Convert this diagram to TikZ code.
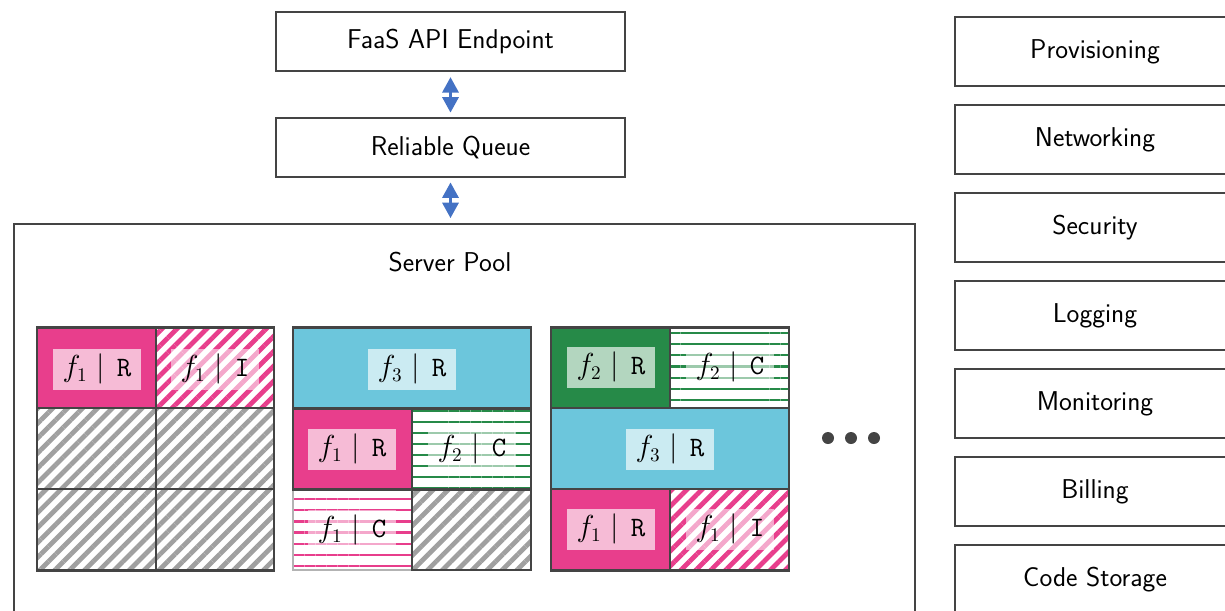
\documentclass[tikz,border=0pt]{standalone}
\usetikzlibrary{arrows.meta,patterns.meta}
\definecolor{boxline}{HTML}{444444}
\definecolor{fpink}{RGB}{232,62,140}
\definecolor{fcyan}{RGB}{108,198,220}
\definecolor{fgreen}{RGB}{38,138,72}
\definecolor{hgray}{RGB}{160,160,160}
\definecolor{arrblue}{RGB}{68,114,196}
\tikzset{
  x=0.02cm, y=-0.02cm,
  txt/.style={font=\fontsize{15.5}{18}\selectfont\sffamily},
  bigbox/.style={draw=boxline, line width=1.4pt, fill=white, rectangle, txt},
  sidebox/.style={bigbox, minimum width=5.6cm, minimum height=1.38cm},
  topbox/.style={bigbox, minimum width=6.98cm, minimum height=1.18cm},
  cellline/.style={draw=boxline, line width=1.1pt},
  thinline/.style={draw=hgray!80, line width=0.6pt},
  gridline/.style={draw=boxline, line width=1.7pt},
  run/.style={fill=fpink},
  runC/.style={fill=fcyan},
  runG/.style={fill=fgreen},
  idlehatch/.style={pattern={Lines[angle=45,distance=6pt,line width=2.7pt]}, pattern color=#1},
  coldlines/.style={pattern={Lines[angle=0,distance=6.3pt,line width=1.2pt]}, pattern color=#1},
  lbl/.style={fill=white, fill opacity=0.65, text opacity=1, minimum width=1.76cm, minimum height=0.82cm, inner sep=1pt, font=\fontsize{16}{19}\selectfont},
  dblarrow/.style={draw=arrblue, line width=1.6pt, {Triangle[width=9.2pt,length=8.8pt]}-{Triangle[width=9.2pt,length=8.8pt]}},
  dot/.style={circle, fill=boxline, inner sep=0pt, minimum size=0.24cm}
}
\newcommand{\flab}[2]{$f_{#1}$\hspace{0.32em}$|$\hspace{0.42em}\texttt{#2}}
\begin{document}
\begin{tikzpicture}
\useasboundingbox (0,0) rectangle (1225,610);
\clip (0,0) rectangle (1225,610);

% top boxes
\node[topbox] (api) at (450.5,41.5) {FaaS API Endpoint};
\node[topbox] (queue) at (450.5,147.5) {Reliable Queue};

% server pool
\node[draw=boxline, line width=1.4pt, rectangle, minimum width=18.02cm, minimum height=8.8cm, anchor=north west] (pool) at (13,223) {};
\node[txt] (pooltitle) at (450,262) {Server Pool};

% arrows
\draw[dblarrow, shorten <=2.8pt, shorten >=2.4pt] (api.south) -- (queue.north);
\draw[dblarrow, shorten <=2.4pt, shorten >=2.8pt] (queue.south) -- (pool.north -| queue.south);

% ---------- grid 1 ----------
\fill[run] (37,327) rectangle (156,408);
\path[idlehatch=fpink] (156,327) rectangle (274,408);
\path[idlehatch=hgray] (37,408) rectangle (274,570);
\draw[cellline, line width=0.8pt] (156,327) -- (156,570) (37,408) -- (274,408) (37,489) -- (274,489);
\draw[gridline] (37,327) rectangle (274,570);
\node[lbl] (g1a) at (97,369) {\flab{1}{R}};
\node[lbl, fill opacity=0.55] (g1b) at (215,369) {\flab{1}{I}};

% ---------- grid 2 ----------
\fill[runC] (293,327) rectangle (531,408);
\fill[run] (293,408) rectangle (412,489);
\path[coldlines=fgreen] (412,408) rectangle (531,489);
\path[coldlines=fpink] (293,489) rectangle (412,570);
\path[idlehatch=hgray] (412,489) rectangle (531,570);
\draw[thinline] (293,489) rectangle (412,570);
\draw[cellline] (412,489) rectangle (531,570);
\draw[cellline] (293,408) rectangle (412,489);
\draw[cellline] (412,408) rectangle (531,489);
\draw[gridline] (293,327) rectangle (531,408);
\draw[gridline] (293,408) -- (293,489) -- (531,489) -- (531,408);
\node[lbl] (g2a) at (412,369) {\flab{3}{R}};
\node[lbl] (g2b) at (352,449) {\flab{1}{R}};
\node[lbl, fill opacity=0.55] (g2c) at (472,449) {\flab{2}{C}};
\node[lbl, fill opacity=0.55] (g2d) at (352,530) {\flab{1}{C}};

% ---------- grid 3 ----------
\fill[runG] (551,327) rectangle (670,408);
\path[coldlines=fgreen] (670,327) rectangle (789,408);
\fill[runC] (551,408) rectangle (789,489);
\fill[run] (551,489) rectangle (670,570);
\path[idlehatch=fpink] (670,489) rectangle (789,570);
\draw[cellline] (670,327) -- (670,408) (551,408) -- (789,408) (551,489) -- (789,489) (670,489) -- (670,570);
\draw[gridline] (551,327) rectangle (789,570);
\node[lbl] (g3a) at (611,367) {\flab{2}{R}};
\node[lbl, fill opacity=0.55] (g3b) at (730,367) {\flab{2}{C}};
\node[lbl] (g3c) at (670,449) {\flab{3}{R}};
\node[lbl] (g3d) at (611,529) {\flab{1}{R}};
\node[lbl, fill opacity=0.55] (g3e) at (730,529) {\flab{1}{I}};

% dots
\node[dot] (d1) at (828,438) {};
\node[dot] (d2) at (851,438) {};
\node[dot] (d3) at (874,438) {};

% side boxes
\node[sidebox] (prov) at (1095,51.5) {Provisioning};
\node[sidebox] (net) at (1095,139.5) {Networking};
\node[sidebox] (sec) at (1095,227.5) {Security};
\node[sidebox] (log) at (1095,315.5) {Logging};
\node[sidebox] (mon) at (1095,403.5) {Monitoring};
\node[sidebox] (bill) at (1095,491.5) {Billing};
\node[sidebox] (code) at (1095,579.5) {Code Storage};
\end{tikzpicture}
\end{document}
